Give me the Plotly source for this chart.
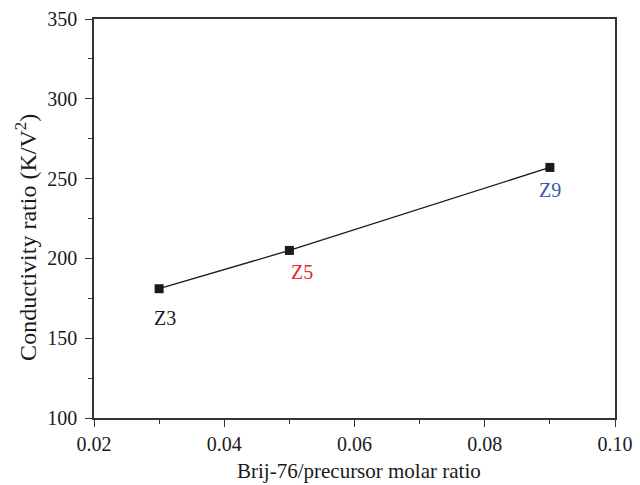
import plotly.graph_objects as go

# Brij-76 / precursor molar ratio vs conductivity ratio
molar_ratio = [0.03, 0.05, 0.09]
conductivity_ratio = [181, 205, 257]
sample_names = ["Z3", "Z5", "Z9"]
label_colors = ["#1a1a1a", "#e8262b", "#3b5aa8"]
label_shifts = [(6, -29), (13, -22), (0, -23)]

x_title = "Brij-76/precursor molar ratio"
y_title = "Conductivity ratio (K/V<sup>2</sup>)"

font_family = "Liberation Serif"
ink = "#1a1a1a"
axis_col = "#333333"

fig = go.Figure()
fig.add_trace(go.Scatter(
    x=molar_ratio, y=conductivity_ratio,
    mode="lines+markers",
    line=dict(color=ink, width=1.3),
    marker=dict(symbol="square", size=9, color=ink),
    showlegend=False,
))

for xv, yv, name, col, (dx, dy) in zip(molar_ratio, conductivity_ratio, sample_names, label_colors, label_shifts):
    fig.add_annotation(x=xv, y=yv, text=name, showarrow=False,
                       xshift=dx, yshift=dy,
                       font=dict(family=font_family, size=20, color=col))

# axis titles placed as paper-anchored annotations
fig.add_annotation(xref="paper", yref="paper", x=0.509, y=-0.134,
                   text=x_title, showarrow=False,
                   xanchor="center", yanchor="middle",
                   font=dict(family=font_family, size=21, color=ink))
fig.add_annotation(xref="paper", yref="paper", x=-0.132, y=0.452,
                   text=y_title, showarrow=False, textangle=-90,
                   xanchor="center", yanchor="middle",
                   font=dict(family=font_family, size=24, color=ink))

axis_common = dict(
    showgrid=False, zeroline=False, automargin=False,
    showline=True, linecolor=axis_col, linewidth=1.5, mirror=True,
    ticks="outside", ticklen=7, tickwidth=1.3, tickcolor=axis_col,
    tickfont=dict(family=font_family, size=20, color=ink),
)

fig.update_xaxes(
    range=[0.02, 0.10], tickvals=[0.02, 0.04, 0.06, 0.08, 0.10],
    ticktext=["0.02", "0.04", "0.06", "0.08", "0.10"],
    minor=dict(tickvals=[0.03, 0.05, 0.07, 0.09], ticks="outside", ticklen=4,
               tickwidth=1.3, tickcolor=axis_col),
    **axis_common,
)
fig.update_yaxes(
    range=[100, 350], tickvals=[100, 150, 200, 250, 300, 350],
    minor=dict(tickvals=[125, 175, 225, 275, 325], ticks="outside", ticklen=4,
               tickwidth=1.3, tickcolor=axis_col),
    ticklabelstandoff=4,
    **axis_common,
)

fig.update_layout(
    width=640, height=485,
    margin=dict(l=94, r=25, t=19, b=67),
    paper_bgcolor="white", plot_bgcolor="white",
)

fig.write_html("out.html")
